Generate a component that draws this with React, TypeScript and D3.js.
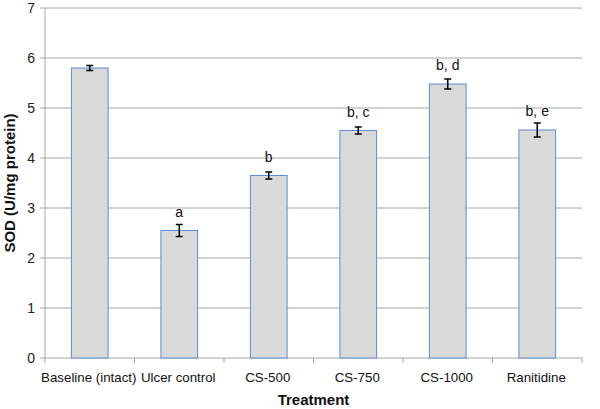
import React from 'react';
import * as d3 from 'd3';

const categories = ['Baseline (intact)', 'Ulcer control', 'CS-500', 'CS-750', 'CS-1000', 'Ranitidine'];
const sodValues = [5.8, 2.55, 3.65, 4.55, 5.48, 4.56];
const sodErrors = [0.05, 0.12, 0.07, 0.07, 0.1, 0.14];
const sigLabels = ['', 'a', 'b', 'b, c', 'b, d', 'b, e'];
const yTicks = [0, 1, 2, 3, 4, 5, 6, 7];

const W = 600;
const H = 409;
const margin = { top: 8, right: 18, bottom: 51, left: 45 };

const App = () => {
  const x = d3
    .scaleBand<string>()
    .domain(categories)
    .range([margin.left, W - margin.right])
    .paddingInner(0.59)
    .paddingOuter(0.295);

  const band = d3
    .scaleBand<string>()
    .domain(categories)
    .range([margin.left, W - margin.right]);

  const y = d3.scaleLinear().domain([0, 7]).range([H - margin.bottom, margin.top]);

  const font = 'Liberation Sans, Arial, Helvetica, sans-serif';
  const gridColor = '#a6a6a6';

  return (
    <svg width={W} height={H} style={{ position: 'absolute', left: 0, top: 0 }} fontFamily={font}>
      <rect width={W} height={H} fill="#fff" />
      {/* gridlines */}
      {yTicks.map((t) => (
        <line key={t} x1={margin.left - 5} x2={W - margin.right} y1={y(t)} y2={y(t)} stroke={gridColor} strokeWidth={1} />
      ))}
      {/* y axis */}
      <line x1={margin.left} x2={margin.left} y1={y(7)} y2={y(0)} stroke={gridColor} strokeWidth={1} />
      {yTicks.map((t) => (
        <text key={t} x={margin.left - 10} y={y(t)} dy="0.35em" textAnchor="end" fontSize={14} fill="#222">
          {t}
        </text>
      ))}
      {/* x ticks */}
      {categories.map((c) => (
        <line key={c} x1={(band(c) as number) + band.bandwidth()} x2={(band(c) as number) + band.bandwidth()} y1={y(0)} y2={y(0) + 5} stroke={gridColor} />
      ))}
      <line x1={margin.left} x2={margin.left} y1={y(0)} y2={y(0) + 5} stroke={gridColor} />
      {/* bars */}
      {categories.map((c, i) => {
        const bx = x(c) as number;
        const cx = bx + x.bandwidth() / 2;
        const top = y(sodValues[i]);
        const e1 = y(sodValues[i] + sodErrors[i]);
        const e0 = y(sodValues[i] - sodErrors[i]);
        return (
          <g key={c}>
            <rect x={bx} y={top} width={x.bandwidth()} height={y(0) - top} fill="#d9d9d9" stroke="#5b8ed6" strokeWidth={1} />
            <line x1={cx} x2={cx} y1={e1} y2={e0} stroke="#000" strokeWidth={1.5} />
            <line x1={cx - 3.5} x2={cx + 3.5} y1={e1} y2={e1} stroke="#000" strokeWidth={1.5} />
            <line x1={cx - 3.5} x2={cx + 3.5} y1={e0} y2={e0} stroke="#000" strokeWidth={1.5} />
            {sigLabels[i] && (
              <text x={cx} y={top - 14} textAnchor="middle" fontSize={14} fill="#111">
                {sigLabels[i]}
              </text>
            )}
            <text x={(band(c) as number) + band.bandwidth() / 2 - 1} y={y(0) + 24} textAnchor="middle" fontSize={13.3} fill="#111">
              {c}
            </text>
          </g>
        );
      })}
      <text x={(margin.left + W - margin.right) / 2} y={405} textAnchor="middle" fontSize={15} fontWeight="bold" fill="#111">
        Treatment
      </text>
      <text transform={`translate(10,${(y(0) + y(7)) / 2}) rotate(-90)`} textAnchor="middle" dy="0.35em" fontSize={15} fontWeight="bold" fill="#111">
        SOD (U/mg protein)
      </text>
    </svg>
  );
};

export default App;
